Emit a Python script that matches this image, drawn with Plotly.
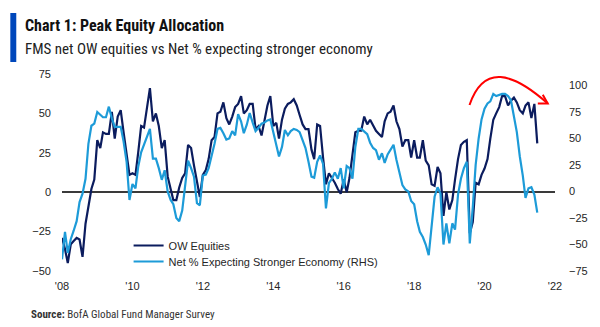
import pandas as pd
import plotly.graph_objects as go

# ---------------- data (monthly, Jan 2008 - Jul 2021) ----------------
months = pd.date_range("2008-01-01", "2021-07-01", freq="MS")

ow_equities = [
    -29, -36, -45, -33, -31, -29, -30, -41, -20, -9, 2, 8,          # 2008
    33, 28, 38, 37, 37, 51, 34, 48, 52, 38, 25, 11,                 # 2009
    12, 11, 25, 42, 41, 55, 66, 45, 50, 42, 28, 33,                 # 2010
    10, 2, -5, -5, 3, 9, 12, 30, 28, 17, 6, -3,                     # 2011
    11, 14, 21, 33, 35, 50, 51, 57, 47, 43, 48, 54,                 # 2012
    56, 61, 50, 52, 56, 56, 40, 42, 36, 46, 55, 61,                 # 2013
    42, 44, 34, 46, 53, 56, 57, 59, 55, 49, 43, 40,                 # 2014
    40, 27, 21, 43, 42, 22, 5, 12, 9, 6, 2, -1,                     # 2015
    8, 0, 9, 23, 38, 39, 39, 48, 43, 46, 42, 39,                    # 2016
    37, 35, 45, 50, 51, 55, 45, 40, 29, 33, 33, 22,                 # 2017
    33, 22, 22, 33, 20, 17, 5, 4, 16, 12, -15, 0,                   # 2018
    -11, -5, 8, 21, 30, 32, 33, -26, -19, 6, 5, 11,                 # 2019
    15, 21, 34, 46, 50, 54, 61, 61, 55, 58, 60, 57,                 # 2020
    52, 50, 55, 57, 47, 56, 31,                                     # 2021
]

net_stronger_economy = [
    -64, -38, -58, -45, -37, -28, -10, -2, 12, 45, 62, 64,          # 2008
    75, 72, 70, 70, 80, 69, 61, 61, 61, 47, 28, -8,                 # 2009
    7, 3, 23, 37, 44, 52, 59, 31, 31, 22, 11, 20,                   # 2010
    0, -8, -12, -25, -28, -18, 8, 29, 22, 14, -11, -13,             # 2011
    15, 16, 22, 33, 45, 59, 60, 55, 49, 50, 57, 53,                 # 2012
    73, 66, 55, 63, 74, 65, 57, 60, 64, 65, 67, 68,                 # 2013
    56, 46, 33, 42, 58, 53, 57, 59, 58, 56, 49, 41,                 # 2014
    28, 14, 13, 28, 34, 26, -16, 8, 12, 18, 12, 22,                 # 2015
    3, 24, 22, 12, 42, 59, 59, 56, 54, 46, 41, 39,                  # 2016
    30, 36, 27, 35, 40, 44, 30, 17, 6, 2, 0, -9,                    # 2017
    -12, -28, -38, -43, -50, -60, -30, -5, 4, -2, -50, -30,         # 2018
    -49, -30, -36, -3, 12, 22, 28, -49, -15, 25, 50, 68,            # 2019
    78, 83, 85, 92, 90, 91, 92, 92, 90, 86, 72, 56,                 # 2020
    33, 15, -6, 3, 4, -3, -20,                                      # 2021
]

tick_years = [2008, 2010, 2012, 2014, 2016, 2018, 2020, 2022]
tick_text = ["'08", "'10", "'12", "'14", "'16", "'18", "'20", "'22"]
left_ticks = [-50, -25, 0, 25, 50, 75]
right_ticks = [-75, -50, -25, 0, 25, 50, 75, 100]

series_names = ["OW Equities", "Net % Expecting Stronger Economy (RHS)"]

# ---------------- styling ----------------
W, H = 600, 327
ML, MR, MT, MB = 62, 42, 74, 56
PW, PH = W - ML - MR, H - MT - MB

DARK = "#0B1C5E"
LIGHT = "#1D9BD8"
TXT = "#262626"
TICKFONT = dict(family="Liberation Sans, Arial, sans-serif", size=11, color=TXT)
NARROW = "Liberation Sans Narrow, Arial Narrow, Roboto Condensed, Liberation Sans, sans-serif"
LEGFONT = dict(family="Liberation Sans, Arial, sans-serif", size=11, color=TXT)


def px(xp):
    return (xp - ML) / PW


def py(yp):
    return (H - MB - yp) / PH


fig = go.Figure()
fig.add_trace(go.Scatter(x=months, y=ow_equities, name=series_names[0], mode="lines",
                         line=dict(color=DARK, width=2.2), legend="legend"))
fig.add_trace(go.Scatter(x=months, y=net_stronger_economy, name=series_names[1], mode="lines",
                         line=dict(color=LIGHT, width=2.2), yaxis="y2", legend="legend2"))

fig.update_layout(
    width=W, height=H,
    margin=dict(l=ML, r=MR, t=MT, b=MB),
    paper_bgcolor="white", plot_bgcolor="white",
    showlegend=True,
    legend=dict(x=px(129), y=py(231), xanchor="left", yanchor="top",
                bgcolor="rgba(0,0,0,0)", font=LEGFONT),
    legend2=dict(x=px(129), y=py(247), xanchor="left", yanchor="top",
                 bgcolor="rgba(0,0,0,0)", font=LEGFONT),
    xaxis=dict(type="date", range=["2008-01-01", "2022-01-01"],
               tickvals=[f"{y}-01-01" for y in tick_years], ticktext=tick_text,
               showgrid=False, zeroline=False, showline=False, ticks="",
               tickfont=TICKFONT, ticklabelstandoff=7),
    yaxis=dict(range=[-50, 75], tickvals=left_ticks, showgrid=False,
               zeroline=True, zerolinecolor="#3a3a3a", zerolinewidth=1.6,
               showline=False, ticks="", tickfont=TICKFONT, ticklabelstandoff=10),
    yaxis2=dict(range=[-75, 110.8], tickvals=right_ticks, overlaying="y", side="right",
                showgrid=False, zeroline=False, showline=False, ticks="",
                tickfont=TICKFONT, ticklabelstandoff=13),
)

# title bar
fig.add_shape(type="rect", xref="paper", yref="paper",
              x0=px(10), x1=px(16), y0=py(62), y1=py(13),
              fillcolor="#0047BB", line=dict(width=0), layer="above")

fig.add_annotation(xref="paper", yref="paper", x=px(23), y=py(26), xanchor="left", yanchor="middle",
                   text="<b>Chart 1: Peak Equity Allocation</b>", showarrow=False,
                   font=dict(family=NARROW, size=16, color="#111111"))
fig.add_annotation(xref="paper", yref="paper", x=px(23), y=py(49), xanchor="left", yanchor="middle",
                   text="FMS net OW equities vs Net % expecting stronger economy", showarrow=False,
                   font=dict(family=NARROW, size=15, color="#222222"))
fig.add_annotation(xref="paper", yref="paper", x=px(29), y=py(314), xanchor="left", yanchor="middle",
                   text="<b>Source:</b> BofA Global Fund Manager Survey", showarrow=False,
                   font=dict(family=NARROW, size=11, color="#333333"))

# red arc with arrow
p0, p1, p2, p3 = (472, 105), (486, 64), (515, 72), (550.7, 103.5)
arc = "M {} {} C {} {}, {} {}, {} {}".format(px(p0[0]), py(p0[1]), px(p1[0]), py(p1[1]),
                                              px(p2[0]), py(p2[1]), px(p3[0]), py(p3[1]))
fig.add_shape(type="path", xref="paper", yref="paper", path=arc,
              line=dict(color="#FF0000", width=2))
head = "M {} {} L {} {} L {} {}".format(px(545.7), py(94.8), px(p3[0]), py(p3[1]),
                                         px(540.7), py(103.5))
fig.add_shape(type="path", xref="paper", yref="paper", path=head,
              line=dict(color="#FF0000", width=2))

fig.write_html("out.html")
